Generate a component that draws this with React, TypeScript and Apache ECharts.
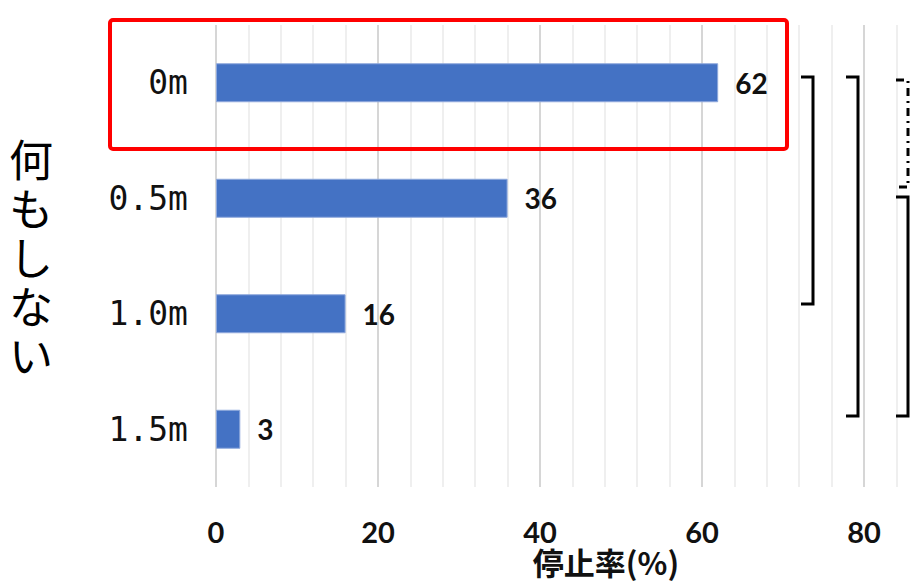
import React, { useEffect, useRef } from "react";
import * as echarts from "echarts";

const categories = ["0m", "0.5m", "1.0m", "1.5m"];
const stopRates = [62, 36, 16, 3];
const xTicks = [0, 20, 40, 60, 80, 100];
const sideTitle = ["何", "も", "し", "な", "い"];
const axisTitle = "停止率(%)";

export default function App() {
  const ref = useRef<HTMLDivElement>(null);
  useEffect(() => {
    if (!ref.current) return;
    const chart = echarts.init(ref.current, null, { renderer: "svg" });
    const bracket = (x: number, y1: number, y2: number, dashed = false) => ({
      type: "polyline",
      shape: { points: [[x - 12, y1], [x, y1], [x, y2], [x - 12, y2]] },
      style: {
        stroke: "#000",
        lineWidth: 3,
        fill: null,
        lineDash: dashed ? [8, 5, 2, 5] : null,
      },
      z: 10,
    });
    chart.setOption({
      animation: false,
      backgroundColor: "#fff",
      grid: {
        left: 216,
        top: 25,
        height: 462,
        width: 810,
        outerBoundsMode: "none",
        containLabel: false,
      },
      xAxis: {
        type: "value",
        min: xTicks[0],
        max: xTicks[xTicks.length - 1],
        interval: 20,
        axisLine: { show: false },
        axisTick: { show: false },
        axisLabel: {
          margin: 30,
          fontSize: 29,
          fontWeight: "bold",
          fontFamily: "Lato",
          color: "#111",
          showMaxLabel: false,
          formatter: (v: number) => (v >= 100 ? "" : String(v)),
        },
        splitLine: { show: true, lineStyle: { color: "#d6d6d6", width: 2 } },
        minorTick: { show: false, splitNumber: 5 },
        minorSplitLine: { show: true, lineStyle: { color: "#efefef", width: 2 } },
      },
      yAxis: {
        type: "category",
        data: categories,
        inverse: true,
        axisLine: { show: false },
        axisTick: { show: false },
        axisLabel: {
          margin: 28,
          fontSize: 33,
          fontFamily: "DejaVu Sans Mono",
          color: "#111",
        },
        splitLine: { show: false },
      },
      series: [
        {
          type: "bar",
          data: stopRates,
          barWidth: 39,
          itemStyle: { color: "#4472C4", borderColor: "#8fa9dc", borderWidth: 1 },
          label: {
            show: true,
            position: "right",
            distance: 17,
            fontSize: 28,
            fontWeight: "bold",
            fontFamily: "Lato",
            color: "#111",
          },
        },
      ],
      graphic: [
        {
          type: "rect",
          shape: { x: 110, y: 20, width: 677, height: 129, r: 3 },
          style: { fill: null, stroke: "#ff0000", lineWidth: 4 },
          z: 10,
        },
        bracket(813, 77, 304),
        bracket(858, 77, 416),
        bracket(908, 80, 187, true),
        bracket(908, 197, 416),
        ...sideTitle.map((ch, i) => ({
          type: "text",
          x: 31,
          y: 158 + i * 49,
          style: {
            text: ch,
            fontSize: 44,
            lineHeight: 47,
            fontFamily: "Noto Sans CJK JP",
            fill: "#000",
            align: "center",
            verticalAlign: "middle",
          },
        })),
        {
          type: "text",
          x: 606,
          y: 561,
          style: {
            text: axisTitle,
            fontSize: 31,
            fontWeight: "bold",
            fontFamily: "Noto Sans CJK JP",
            fill: "#111",
            align: "center",
            verticalAlign: "middle",
          },
        },
      ],
    });
    return () => chart.dispose();
  }, []);
  return <div ref={ref} style={{ width: 910, height: 588, position: "absolute", left: 0, top: 0 }} />;
}
